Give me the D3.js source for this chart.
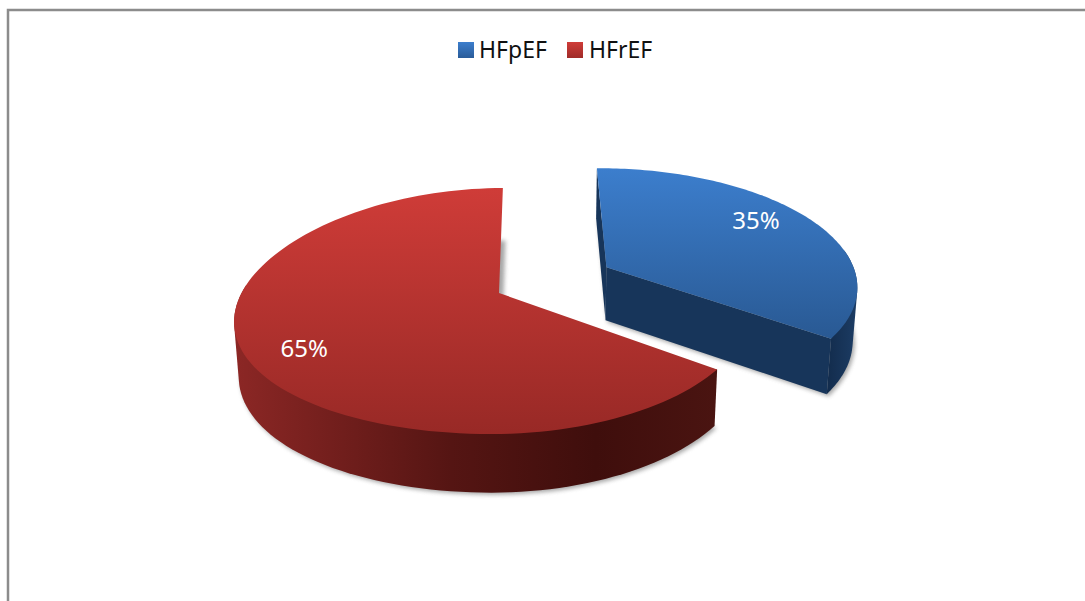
<!DOCTYPE html>
<html>
<head>
<meta charset="utf-8">
<script src="https://cdnjs.cloudflare.com/ajax/libs/d3/7.9.0/d3.min.js"></script>
<style>
  html, body { margin: 0; padding: 0; background: #fff; }
  svg { display: block; }
  text { font-family: "Noto Sans", sans-serif; }
</style>
</head>
<body>
<svg id="chart" width="1085" height="601"></svg>
<script>
// Chart content
const categories = ["HFpEF", "HFrEF"];
const shares = [35, 65];
const valueLabels = ["35%", "65%"];

// Slice colours
const topStops = [["#3c7ecd", "#295993"], ["#cf3c38", "#982926"]];
const wallStops = [
  [["0%", "#122b4b"], ["100%", "#1c3c64"]],
  [["0%", "#8c2725"], ["45%", "#551513"], ["75%", "#3f0e0c"], ["100%", "#4a1411"]]
];
const cutFill = "#17355a";
const legendFill = [["#3c7ecd", "#2a5c99"], ["#cf3c38", "#a02b28"]];

// Tilted-disc projection
const vanishX = 545, apexY = 293;
const apexX = -46;            // resting pie centre, relative to vanishX
const radiusLeft = 261, radiusRight = [255, 250], radiusDepth = 120.4;
const explodeScale = 257;
const leftDroop = 8;          // left side of the disc sits a little lower
const perspective = 0.1463;
const wallHeight = 54, baseShrink = 0.985;
const explode = [0.48, 0];
const rotation = -0.5 * Math.PI / 180;

const svg = d3.select("#chart");
const defs = svg.append("defs");

const pie = d3.pie().sort(null).startAngle(rotation).endAngle(rotation + 2 * Math.PI);
const slices = pie(shares);

function project(slice, unitX, unitZ, level) {
  const mid = (slice.startAngle + slice.endAngle) / 2;
  const e = explode[slice.index];
  const wz = unitZ - e * Math.cos(mid);
  const wx = apexX + e * Math.sin(mid) * explodeScale
    + unitX * (unitX < 0 ? radiusLeft : radiusRight[slice.index]);
  const s = 1 / (1 - perspective * wz);
  let x = vanishX + wx * s;
  let y = apexY + wz * radiusDepth * s + (unitX < 0 ? leftDroop * unitX * unitX : 0);
  if (level === 1) {
    x = vanishX + (x - vanishX) * baseShrink;
    y += wallHeight * (0.5 + 0.5 * s);
  }
  return [x, y];
}

const rim = (slice, a, level) => project(slice, Math.sin(a), -Math.cos(a), level);
const arcAngles = (slice) => d3.range(0, 121).map(i => slice.startAngle + (slice.endAngle - slice.startAngle) * i / 120);
const rimPoints = (slice, level) => arcAngles(slice).map(a => rim(slice, a, level));
const line = d3.line();

function addGradient(id, attrs, stops) {
  const g = defs.append("linearGradient").attr("id", id).attr("gradientUnits", attrs.units);
  ["x1", "y1", "x2", "y2"].forEach(k => g.attr(k, attrs[k]));
  stops.forEach(([o, c]) => g.append("stop").attr("offset", o).attr("stop-color", c));
}

const soft = defs.append("filter").attr("id", "soft")
  .attr("x", "-10%").attr("y", "-10%").attr("width", "120%").attr("height", "120%");
soft.append("feGaussianBlur").attr("stdDeviation", 2);

slices.forEach(d => {
  const i = d.index;
  const top = rimPoints(d, 0), base = rimPoints(d, 1);
  const apexTop = project(d, 0, 0, 0), apexBase = project(d, 0, 0, 1);

  addGradient("top" + i, { units: "objectBoundingBox", x1: 0, y1: 0, x2: 0, y2: 1 },
    [["0%", topStops[i][0]], ["100%", topStops[i][1]]]);

  const xs = i === 0 ? [825, 857] : [234, 716];
  addGradient("wall" + i, { units: "userSpaceOnUse", x1: xs[0], y1: 0, x2: xs[1], y2: 0 }, wallStops[i]);

  const g = svg.append("g").attr("class", "slice slice-" + i);

  // Soft shadow under the base of the slice
  g.append("path")
    .attr("d", line([apexBase, ...base]) + "Z")
    .attr("transform", "translate(2,2)")
    .attr("fill", "#777")
    .attr("opacity", 0.65)
    .attr("filter", "url(#soft)");

  // Outer wall: the swept outline of the viewer-facing part of the rim
  const facing = arcAngles(d).filter(a => -Math.cos(a) > -0.15);
  const hull = d3.polygonHull(facing.flatMap(a => [rim(d, a, 0), rim(d, a, 1)]));
  g.append("path")
    .attr("d", line(hull) + "Z")
    .attr("fill", `url(#wall${i})`);

  // Cut faces
  if (i === 0) {
    [[top[0], base[0]], [top[top.length - 1], base[base.length - 1]]].forEach(([t, b]) => {
      g.append("path")
        .attr("d", line([apexTop, t, b, apexBase]) + "Z")
        .attr("fill", cutFill);
    });
  }

  // Top face
  g.append("path")
    .attr("d", line([apexTop, ...top]) + "Z")
    .attr("fill", `url(#top${i})`);
});

// Value labels, anchored on each slice's mid-angle
const labelRadius = [0.8, 0.79];
const labelNudge = [[-14, -7], [1, 6]];
slices.forEach(d => {
  const mid = (d.startAngle + d.endAngle) / 2;
  const r = labelRadius[d.index];
  const [x, y] = project(d, r * Math.sin(mid), -r * Math.cos(mid), 0);
  svg.append("text")
    .attr("x", x + labelNudge[d.index][0])
    .attr("y", y + labelNudge[d.index][1] + 8)
    .attr("text-anchor", "middle")
    .attr("font-size", 24)
    .attr("fill", "#fff")
    .text(valueLabels[d.index]);
});

// Legend
const legendX = [458, 567];
const legendTextX = [479, 589];
categories.forEach((name, i) => {
  addGradient("key" + i, { units: "objectBoundingBox", x1: 0, y1: 0, x2: 0, y2: 1 },
    [["0%", legendFill[i][0]], ["100%", legendFill[i][1]]]);
  svg.append("rect")
    .attr("x", legendX[i]).attr("y", 42)
    .attr("width", 16).attr("height", 16)
    .attr("fill", `url(#key${i})`);
  svg.append("text")
    .attr("x", legendTextX[i]).attr("y", 58)
    .attr("font-size", 23)
    .attr("fill", "#111")
    .text(name);
});

// Frame: top and left edges only
svg.append("path")
  .attr("d", "M8,601V10H1085")
  .attr("fill", "none")
  .attr("stroke", "#8c8c8c")
  .attr("stroke-width", 2.5);
</script>
</body>
</html>
